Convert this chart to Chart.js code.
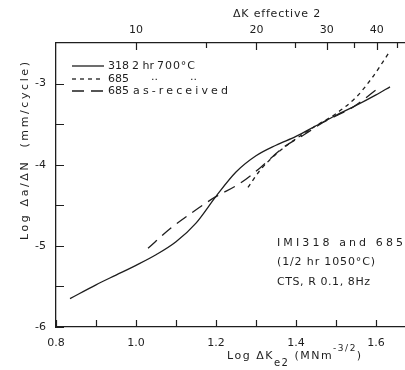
<!DOCTYPE html>
<html lang="en">
  <head>
    <meta charset="UTF-8" />
    <script src="https://cdn.jsdelivr.net/npm/chart.js@4/dist/chart.umd.min.js"></script>
    <title>Crack growth IMI318 / 685</title>
    <style>
      body { margin: 0; background: #fff; }
    </style>
  </head>
  <body>
    <canvas id="myChart" width="405" height="370"></canvas>
  </body>
  <script>
    // values: log dK (MN m^-3/2) vs log da/dN (mm/cycle)
    const logK318 = [0.835, 0.9, 0.95, 1.0, 1.05, 1.1, 1.15, 1.2, 1.25, 1.3, 1.35, 1.4, 1.45, 1.5, 1.55, 1.6, 1.635];
    const logRate318 = [-5.65, -5.48, -5.36, -5.24, -5.11, -4.95, -4.72, -4.39, -4.09, -3.89, -3.76, -3.65, -3.52, -3.39, -3.27, -3.14, -3.04];

    const logK685 = [1.28, 1.31, 1.35, 1.4, 1.45, 1.5, 1.55, 1.59, 1.631];
    const logRate685 = [-4.28, -4.07, -3.87, -3.68, -3.52, -3.37, -3.17, -2.93, -2.63];

    const logK685ar = [1.03, 1.085, 1.14, 1.1975, 1.26, 1.31, 1.3675, 1.42, 1.4675, 1.5425, 1.61];
    const logRate685ar = [-5.03, -4.79, -4.59, -4.4, -4.23, -4.04, -3.79, -3.63, -3.48, -3.29, -3.04];

    const bottomTicks = [0.8, 0.9, 1.0, 1.1, 1.2, 1.3, 1.4, 1.5, 1.6];
    const bottomLabels = [0.8, 1.0, 1.2, 1.4, 1.6];
    const topTicksK = [10, 15, 20, 25, 30, 35, 40, 45];
    const topLabelsK = [10, 20, 30, 40];
    const yTicks = [-6, -5.5, -5, -4.5, -4, -3.5, -3];
    const yLabels = [-6, -5, -4, -3];

    const legendNumbers = ["318", "685", "685"];
    const legendWords = [["2 hr", "700°C"], ["..", ".."], ["as-received"]];
    const noteLines = ["IMI318 and 685", "(1/2 hr 1050°C)", "CTS, R 0.1, 8Hz"];

    const ink = "#1e1e1e";
    const fontFamily = "'DejaVu Sans', sans-serif";

    function toPoints(xs, ys) {
      return xs.map((x, i) => ({ x: x, y: ys[i] }));
    }

    function near(list, v) {
      return list.find((a) => Math.abs(a - v) < 1e-6);
    }

    // spreads the letters of a text so that it takes the given width
    function fitText(ctx, text, x, y, width) {
      ctx.letterSpacing = "0px";
      const natural = ctx.measureText(text).width;
      const gap = Math.max(0, (width - natural) / Math.max(1, text.length - 1));
      ctx.letterSpacing = gap + "px";
      ctx.fillText(text, x, y);
      ctx.letterSpacing = "0px";
    }

    // draws a row of text pieces, some raised or lowered
    function drawRuns(ctx, runs, x, y) {
      runs.forEach((r) => {
        ctx.font = r.size + "px " + fontFamily;
        ctx.fillText(r.text, x, y + r.dy);
        x += ctx.measureText(r.text).width;
      });
    }

    const decorations = {
      id: "decorations",
      afterDraw(chart) {
        const ctx = chart.ctx;
        const xs = chart.scales.x;
        const xt = chart.scales.x2;
        const ys = chart.scales.y;
        const area = chart.chartArea;

        ctx.save();
        ctx.strokeStyle = ink;
        ctx.fillStyle = ink;
        ctx.lineWidth = 1.2;

        // inward tick marks
        ctx.beginPath();
        bottomTicks.forEach((v) => {
          const px = Math.round(xs.getPixelForValue(v)) + 0.5;
          ctx.moveTo(px, area.bottom);
          ctx.lineTo(px, area.bottom - 7);
        });
        topTicksK.forEach((k) => {
          const px = Math.round(xt.getPixelForValue(Math.log10(k))) + 0.5;
          ctx.moveTo(px, area.top);
          ctx.lineTo(px, area.top + (topLabelsK.includes(k) ? 7 : 5));
        });
        yTicks.forEach((v) => {
          const py = Math.round(ys.getPixelForValue(v)) + 0.5;
          ctx.moveTo(area.left, py);
          ctx.lineTo(area.left + 8, py);
        });
        ctx.stroke();

        ctx.textBaseline = "middle";
        ctx.font = "11px " + fontFamily;

        // top axis title
        ctx.textAlign = "left";
        fitText(ctx, "ΔK effective 2", 233, 14, 87);

        // y axis title
        ctx.save();
        ctx.translate(25, 240);
        ctx.rotate(-Math.PI / 2);
        fitText(ctx, "Log Δa/ΔN  (mm/cycle)", 0, 0, 178);
        ctx.restore();

        // x axis title with sub and superscript
        ctx.textBaseline = "alphabetic";
        ctx.letterSpacing = "1.5px";
        drawRuns(ctx, [
          { text: "Log ΔK", size: 11, dy: 0 },
          { text: "e2", size: 10, dy: 7 },
          { text: " (MNm", size: 11, dy: 0 },
          { text: "-3/2", size: 9, dy: -8 },
          { text: ")", size: 11, dy: 0 },
        ], 227, 359);
        ctx.letterSpacing = "0px";

        // legend
        ctx.textBaseline = "middle";
        ctx.font = "11px " + fontFamily;
        const rows = [66, 79, 91];
        const wordSpots = [
          [[132, 18], [157, 38]],
          [[151, 5], [190, 5]],
          [[133, 95]],
        ];
        chart.data.datasets.forEach((ds, i) => {
          ctx.save();
          ctx.lineWidth = ds.borderWidth;
          ctx.setLineDash(ds.borderDash || []);
          ctx.beginPath();
          ctx.moveTo(72, rows[i]);
          ctx.lineTo(104, rows[i]);
          ctx.stroke();
          ctx.restore();
          fitText(ctx, legendNumbers[i], 108, rows[i], 19);
          legendWords[i].forEach((w, j) => {
            const spot = wordSpots[i][j];
            fitText(ctx, w, spot[0], rows[i] - (i === 1 ? 2 : 0), spot[1]);
          });
        });

        // specimen note
        const noteWidths = [126, 98, 93];
        noteLines.forEach((t, i) => {
          fitText(ctx, t, 277, [243, 262, 282][i], noteWidths[i]);
        });
        ctx.restore();
      },
    };

    const tickFont = { family: fontFamily, size: 11 };

    new Chart("myChart", {
      type: "line",
      data: {
        datasets: [
          {
            label: "318 2 hr 700°C",
            data: toPoints(logK318, logRate318),
            borderColor: ink,
            borderWidth: 1.3,
            borderDash: [],
          },
          {
            label: "685 2 hr 700°C",
            data: toPoints(logK685, logRate685),
            borderColor: ink,
            borderWidth: 1.3,
            borderDash: [4, 4],
          },
          {
            label: "685 as-received",
            data: toPoints(logK685ar, logRate685ar),
            borderColor: ink,
            borderWidth: 1.3,
            borderDash: [12, 7],
          },
        ],
      },
      options: {
        responsive: false,
        animation: false,
        layout: { padding: 0 },
        elements: {
          point: { radius: 0 },
          line: { cubicInterpolationMode: "monotone", fill: false },
        },
        plugins: {
          legend: { display: false },
          tooltip: { enabled: false },
        },
        scales: {
          x: {
            type: "linear",
            position: "bottom",
            min: 0.8,
            max: 1.6725,
            grid: { display: false, drawTicks: false },
            border: { display: true, color: ink, width: 1.3 },
            ticks: {
              color: ink,
              font: tickFont,
              padding: 10,
              maxRotation: 0,
              autoSkip: false,
              callback: (v) => (near(bottomLabels, v) !== undefined ? v.toFixed(1) : ""),
            },
            afterBuildTicks: (s) => {
              s.ticks = bottomTicks.map((v) => ({ value: v }));
            },
            afterFit: (s) => {
              s.height = 43;
            },
          },
          x2: {
            type: "linear",
            position: "top",
            min: 0.8,
            max: 1.6725,
            grid: { display: false, drawTicks: false },
            border: { display: true, color: ink, width: 1.3 },
            ticks: {
              color: ink,
              font: tickFont,
              padding: 6,
              maxRotation: 0,
              autoSkip: false,
              callback: (v) => {
                const k = topLabelsK.find((a) => Math.abs(Math.log10(a) - v) < 1e-6);
                return k ? String(k) : "";
              },
            },
            afterBuildTicks: (s) => {
              s.ticks = topTicksK.map((k) => ({ value: Math.log10(k) }));
            },
            afterFit: (s) => {
              s.height = 43;
            },
          },
          y: {
            type: "linear",
            min: -6,
            max: -2.5,
            grid: { display: false, drawTicks: false },
            border: { display: true, color: ink, width: 1.3 },
            ticks: {
              color: ink,
              font: tickFont,
              padding: 10,
              autoSkip: false,
              callback: (v) => (near(yLabels, v) !== undefined ? String(v) : ""),
            },
            afterBuildTicks: (s) => {
              s.ticks = yTicks.map((v) => ({ value: v }));
            },
            afterFit: (s) => {
              s.width = 56;
            },
          },
        },
      },
      plugins: [decorations],
    });
  </script>
</html>
